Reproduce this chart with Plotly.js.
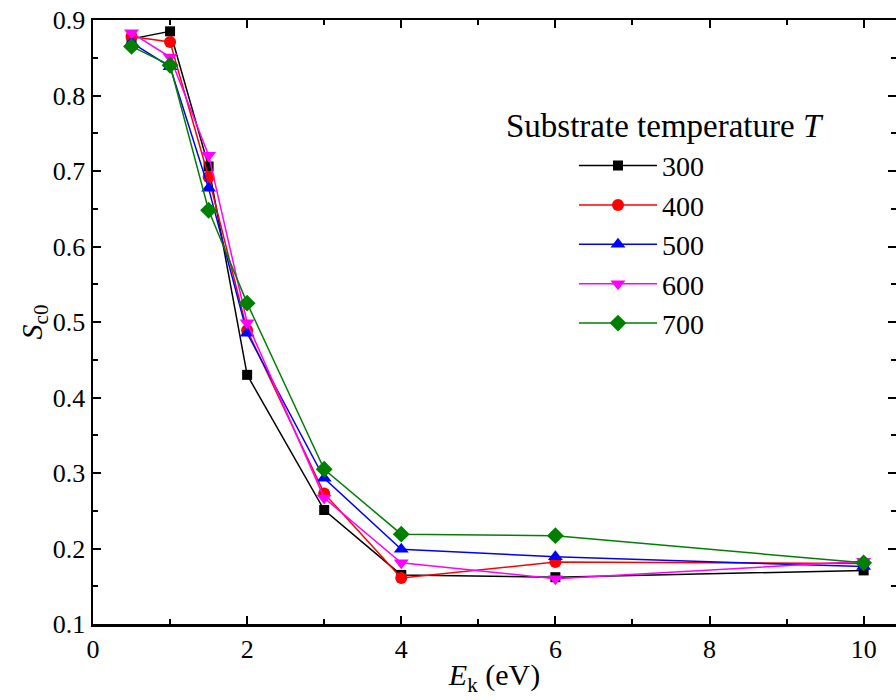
<!DOCTYPE html>
<html>
<head>
<meta charset="utf-8">
<script src="https://cdn.plot.ly/plotly-3.0.1.min.js"></script>
<style>body{margin:0;background:#fff;}#chart{width:896px;height:700px;}</style>
</head>
<body>
<div id="chart"></div>
<script>
const energies = [0.5, 1, 1.5, 2, 3, 4, 6, 10];
const temperatures = ['300', '400', '500', '600', '700'];
const legendTitle = 'Substrate temperature <i>T</i>';
const s300 = [0.875, 0.885, 0.706, 0.430, 0.251, 0.165, 0.162, 0.171];
const s400 = [0.878, 0.871, 0.692, 0.489, 0.273, 0.161, 0.182, 0.180];
const s500 = [0.870, 0.838, 0.677, 0.485, 0.293, 0.199, 0.189, 0.176];
const s600 = [0.883, 0.851, 0.721, 0.499, 0.267, 0.181, 0.160, 0.183];
const s700 = [0.865, 0.840, 0.648, 0.525, 0.305, 0.219, 0.217, 0.181];

const colors = ['#000000', '#ff0000', '#0000ff', '#ff00ff', '#008000'];
const symbols = ['square', 'circle', 'triangle-up', 'triangle-down', 'diamond'];
const sizes = [10, 12, 13, 13, 13];
const series = [s300, s400, s500, s600, s700];

const traces = series.map((ys, i) => ({
  x: energies, y: ys, name: temperatures[i], type: 'scatter', mode: 'lines+markers',
  line: {color: colors[i], width: 1.5},
  marker: {symbol: symbols[i], size: sizes[i], color: colors[i]}
}));

const font = '"Liberation Serif", "Times New Roman", serif';
const layout = {
  width: 896, height: 700,
  margin: {l: 93, r: 0, t: 20, b: 76},
  paper_bgcolor: '#fff', plot_bgcolor: '#fff',
  font: {family: font, size: 26, color: '#000'},
  showlegend: true,
  legend: {
    x: 0.599, y: 0.80, xanchor: 'left', yanchor: 'top',
    bgcolor: 'rgba(0,0,0,0)', font: {size: 28, family: font},
    tracegroupgap: 0, itemwidth: 78
  },
  annotations: [{
    text: legendTitle, xref: 'paper', yref: 'paper', x: 0.712, y: 0.824,
    xanchor: 'center', yanchor: 'middle', showarrow: false,
    font: {size: 33, family: font, color: '#000'}
  }],
  xaxis: {
    range: [0, 10.42], tickvals: [0, 2, 4, 6, 8, 10],
    ticks: 'inside', ticklen: 8, tickwidth: 2, tickcolor: '#000',
    minor: {dtick: 1, ticks: 'inside', ticklen: 5, tickwidth: 2, tickcolor: '#000'},
    showline: true, linewidth: 2.5, linecolor: '#000', mirror: 'allticks',
    showgrid: false, zeroline: false,
    tickfont: {size: 26, family: font},
    title: {text: '<i>E</i><sub>k</sub> (eV)', font: {size: 30, family: font}, standoff: 2}
  },
  yaxis: {
    range: [0.1, 0.9], dtick: 0.1, tickformat: '.1f',
    ticks: 'inside', ticklen: 8, tickwidth: 2, tickcolor: '#000',
    minor: {dtick: 0.05, ticks: 'inside', ticklen: 5, tickwidth: 2, tickcolor: '#000'},
    showline: true, linewidth: 2.5, linecolor: '#000', mirror: 'allticks',
    showgrid: false, zeroline: false,
    tickfont: {size: 26, family: font},
    title: {text: '<i>S</i><sub>c0</sub>', font: {size: 30, family: font}, standoff: 2}
  }
};

Plotly.newPlot('chart', traces, layout, {displayModeBar: false, staticPlot: true});
</script>
</body>
</html>
